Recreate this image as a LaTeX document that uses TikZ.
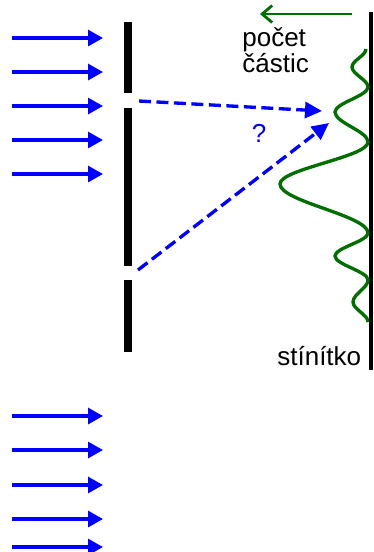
\documentclass[tikz,border=0pt]{standalone}
\usepackage{fontspec}
\setmainfont{Liberation Sans}
\usetikzlibrary{arrows.meta}
\definecolor{countgreen}{RGB}{0,110,0}
\begin{document}
\begin{tikzpicture}[x=0.02cm, y=-0.02cm,
  beam/.style={draw=blue, line width=1.8pt, -{Triangle[length=0.3cm, width=0.32cm]}},
  path/.style={draw=blue, line width=1.9pt, dash pattern=on 0.24cm off 0.11cm, -{Triangle[length=0.34cm, width=0.32cm]}},
  wall/.style={line width=4.5pt},
  screen/.style={line width=2.3pt},
  wave/.style={draw=countgreen, line width=1.9pt},
  label/.style={font=\fontsize{14.8}{17}\selectfont, inner sep=0pt, anchor=base west}]
  \useasboundingbox (0,0) rectangle (374,552);

  % Incoming beams
  \foreach \y [count=\i] in {38,72,106,140,174,416,450,485,519,547} {
    \coordinate (s\i) at (12,\y);
    \coordinate (e\i) at (103,\y);
    \draw[beam] (s\i) -- (e\i);
  }

  % Barrier with two slits
  \draw[wall] (128,22) -- (128,93);
  \draw[wall] (128,108) -- (128,266);
  \draw[wall] (128,280) -- (128,352);

  % Screen
  \draw[screen] (371,12) -- (371,370);

  % Paths from the slits
  \coordinate (slitA) at (139,101);
  \coordinate (slitB) at (138,270);
  \coordinate (hitA) at (322,111);
  \coordinate (hitB) at (329,123);
  \draw[path] (slitA) -- (hitA);
  \draw[path] (slitB) -- (hitB);
  \node[label, text=blue, anchor=base] (q) at (259,142) {?};

  % Particle count
  \draw[wave] (366,49) .. controls (366,55.5) and (352,60.5) .. (352,67)
    .. controls (352,74.2) and (368,79.8) .. (368,87)
    .. controls (368,96) and (335,103) .. (335,112)
    .. controls (335,122.8) and (368,131.2) .. (368,142)
    .. controls (368,157.1) and (280,168.9) .. (280,184)
    .. controls (280,201.6) and (368,215.4) .. (368,233)
    .. controls (368,241.3) and (335,247.7) .. (335,256)
    .. controls (335,264.6) and (368,271.4) .. (368,280)
    .. controls (368,287.9) and (353,294.1) .. (353,302)
    .. controls (353,309.2) and (368,314.8) .. (368,322);
  \coordinate (cs) at (352,14);
  \coordinate (ce) at (260,14);
  \draw[wave, line width=1.6pt, -{Straight Barb[length=0.2cm, width=0.34cm]}] (cs) -- (ce);

  % Labels
  \node[label] (pocet) at (242,46) {počet};
  \node[label] (castic) at (242,72) {částic};
  \node[label] (stinitko) at (277,365) {stínítko};
\end{tikzpicture}
\end{document}
